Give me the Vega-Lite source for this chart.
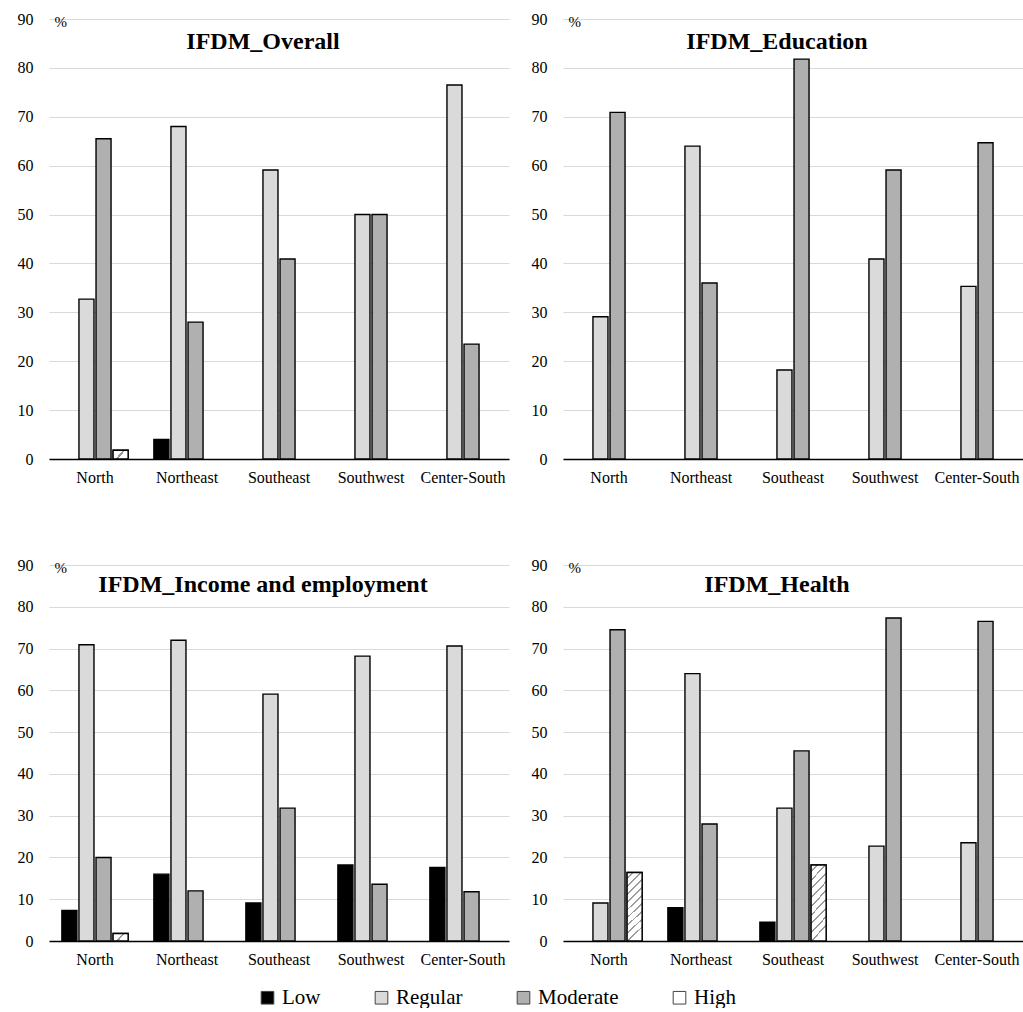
{
  "$schema": "https://vega.github.io/schema/vega-lite/v6.json",
  "background": "white",
  "padding": {"left": 17, "top": 11, "right": 0, "bottom": 0},
  "config": {
    "font": "Liberation Serif",
    "view": {"stroke": null},
    "concat": {"spacing": 22},
    "axisX": {"domainColor": "#000000", "domainWidth": 1.5, "ticks": false, "labelFontSize": 16, "labelPadding": 10, "labelAngle": 0, "title": null, "grid": false, "labelColor": "#000000", "labelFont": "Liberation Serif"},
    "axisY": {"domain": false, "ticks": false, "gridColor": "#d9d9d9", "gridWidth": 1, "labelFontSize": 16, "labelPadding": 16, "labelColor": "#000000", "labelFont": "Liberation Serif", "titleFont": "Liberation Serif"}
  },
  "data": {"values": [
    {"panel": "IFDM_Overall", "region": "North", "level": "Regular", "value": 32.7},
    {"panel": "IFDM_Overall", "region": "North", "level": "Moderate", "value": 65.5},
    {"panel": "IFDM_Overall", "region": "North", "level": "High", "value": 1.8},
    {"panel": "IFDM_Overall", "region": "Northeast", "level": "Low", "value": 4.0},
    {"panel": "IFDM_Overall", "region": "Northeast", "level": "Regular", "value": 68.0},
    {"panel": "IFDM_Overall", "region": "Northeast", "level": "Moderate", "value": 28.0},
    {"panel": "IFDM_Overall", "region": "Southeast", "level": "Regular", "value": 59.1},
    {"panel": "IFDM_Overall", "region": "Southeast", "level": "Moderate", "value": 40.9},
    {"panel": "IFDM_Overall", "region": "Southwest", "level": "Regular", "value": 50.0},
    {"panel": "IFDM_Overall", "region": "Southwest", "level": "Moderate", "value": 50.0},
    {"panel": "IFDM_Overall", "region": "Center-South", "level": "Regular", "value": 76.5},
    {"panel": "IFDM_Overall", "region": "Center-South", "level": "Moderate", "value": 23.5},
    {"panel": "IFDM_Education", "region": "North", "level": "Regular", "value": 29.1},
    {"panel": "IFDM_Education", "region": "North", "level": "Moderate", "value": 70.9},
    {"panel": "IFDM_Education", "region": "Northeast", "level": "Regular", "value": 64.0},
    {"panel": "IFDM_Education", "region": "Northeast", "level": "Moderate", "value": 36.0},
    {"panel": "IFDM_Education", "region": "Southeast", "level": "Regular", "value": 18.2},
    {"panel": "IFDM_Education", "region": "Southeast", "level": "Moderate", "value": 81.8},
    {"panel": "IFDM_Education", "region": "Southwest", "level": "Regular", "value": 40.9},
    {"panel": "IFDM_Education", "region": "Southwest", "level": "Moderate", "value": 59.1},
    {"panel": "IFDM_Education", "region": "Center-South", "level": "Regular", "value": 35.3},
    {"panel": "IFDM_Education", "region": "Center-South", "level": "Moderate", "value": 64.7},
    {"panel": "IFDM_Income and employment", "region": "North", "level": "Low", "value": 7.3},
    {"panel": "IFDM_Income and employment", "region": "North", "level": "Regular", "value": 70.9},
    {"panel": "IFDM_Income and employment", "region": "North", "level": "Moderate", "value": 20.0},
    {"panel": "IFDM_Income and employment", "region": "North", "level": "High", "value": 1.8},
    {"panel": "IFDM_Income and employment", "region": "Northeast", "level": "Low", "value": 16.0},
    {"panel": "IFDM_Income and employment", "region": "Northeast", "level": "Regular", "value": 72.0},
    {"panel": "IFDM_Income and employment", "region": "Northeast", "level": "Moderate", "value": 12.0},
    {"panel": "IFDM_Income and employment", "region": "Southeast", "level": "Low", "value": 9.1},
    {"panel": "IFDM_Income and employment", "region": "Southeast", "level": "Regular", "value": 59.1},
    {"panel": "IFDM_Income and employment", "region": "Southeast", "level": "Moderate", "value": 31.8},
    {"panel": "IFDM_Income and employment", "region": "Southwest", "level": "Low", "value": 18.2},
    {"panel": "IFDM_Income and employment", "region": "Southwest", "level": "Regular", "value": 68.2},
    {"panel": "IFDM_Income and employment", "region": "Southwest", "level": "Moderate", "value": 13.6},
    {"panel": "IFDM_Income and employment", "region": "Center-South", "level": "Low", "value": 17.6},
    {"panel": "IFDM_Income and employment", "region": "Center-South", "level": "Regular", "value": 70.6},
    {"panel": "IFDM_Income and employment", "region": "Center-South", "level": "Moderate", "value": 11.8},
    {"panel": "IFDM_Health", "region": "North", "level": "Regular", "value": 9.1},
    {"panel": "IFDM_Health", "region": "North", "level": "Moderate", "value": 74.5},
    {"panel": "IFDM_Health", "region": "North", "level": "High", "value": 16.4},
    {"panel": "IFDM_Health", "region": "Northeast", "level": "Low", "value": 8.0},
    {"panel": "IFDM_Health", "region": "Northeast", "level": "Regular", "value": 64.0},
    {"panel": "IFDM_Health", "region": "Northeast", "level": "Moderate", "value": 28.0},
    {"panel": "IFDM_Health", "region": "Southeast", "level": "Low", "value": 4.5},
    {"panel": "IFDM_Health", "region": "Southeast", "level": "Regular", "value": 31.8},
    {"panel": "IFDM_Health", "region": "Southeast", "level": "Moderate", "value": 45.5},
    {"panel": "IFDM_Health", "region": "Southeast", "level": "High", "value": 18.2},
    {"panel": "IFDM_Health", "region": "Southwest", "level": "Regular", "value": 22.7},
    {"panel": "IFDM_Health", "region": "Southwest", "level": "Moderate", "value": 77.3},
    {"panel": "IFDM_Health", "region": "Center-South", "level": "Regular", "value": 23.5},
    {"panel": "IFDM_Health", "region": "Center-South", "level": "Moderate", "value": 76.5}
  ]},
  "vconcat": [
    {"spacing": 22, "hconcat": [
      {"width": 460, "height": 440, "layer": [
        {"transform": [{"filter": "datum.panel == 'IFDM_Overall'"}],
         "mark": {"type": "bar", "stroke": "#000000", "strokeWidth": 1.4},
         "encoding": {
           "x": {"field": "region", "type": "nominal", "scale": {"domain": ["North", "Northeast", "Southeast", "Southwest", "Center-South"], "paddingInner": 0.28, "paddingOuter": 0.14}},
           "xOffset": {"field": "level", "type": "nominal", "scale": {"domain": ["Low", "Regular", "Moderate", "High"], "paddingInner": 0.12}},
           "y": {"field": "value", "type": "quantitative", "scale": {"domain": [0, 90]}, "axis": {"values": [0, 10, 20, 30, 40, 50, 60, 70, 80, 90], "title": "%", "titleAngle": 0, "titleAlign": "left", "titleBaseline": "middle", "titleX": 5, "titleY": 2, "titleFontSize": 15, "titleFontWeight": "normal", "titleColor": "#000000"}},
           "fill": {"field": "level", "type": "nominal", "scale": {"domain": ["Low", "Regular", "Moderate", "High"], "range": ["#000000", "#dadadb", "#b0b0b0", "#ffffff"]}, "title": null}
         }},
        {"transform": [{"filter": "datum.panel == 'IFDM_Overall' && datum.level == 'High'"}],
         "mark": {"type": "bar", "stroke": "#000000", "strokeWidth": 1.4, "fill": {"gradient": "linear", "x1": 0, "y1": 0, "x2": 1, "y2": 0.47, "stops": [{"offset": 0, "color": "#ffffff"}, {"offset": 0.52, "color": "#ffffff"}, {"offset": 0.52, "color": "#9a9a9a"}, {"offset": 0.66, "color": "#9a9a9a"}, {"offset": 0.66, "color": "#ffffff"}, {"offset": 1, "color": "#ffffff"}]}},
         "encoding": {
           "x": {"field": "region", "type": "nominal"},
           "xOffset": {"field": "level", "type": "nominal"},
           "y": {"field": "value", "type": "quantitative"}
         }},
        {"data": {"values": [{"title": "IFDM_Overall"}]},
         "mark": {"type": "text", "font": "Liberation Serif", "fontWeight": "bold", "fontSize": 24, "baseline": "middle", "align": "center", "dx": -16, "color": "#000000"},
         "encoding": {"x": {"datum": "Southeast"}, "y": {"datum": 85.3}, "text": {"field": "title"}}}
      ]},
      {"width": 460, "height": 440, "layer": [
        {"transform": [{"filter": "datum.panel == 'IFDM_Education'"}],
         "mark": {"type": "bar", "stroke": "#000000", "strokeWidth": 1.4},
         "encoding": {
           "x": {"field": "region", "type": "nominal", "scale": {"domain": ["North", "Northeast", "Southeast", "Southwest", "Center-South"], "paddingInner": 0.28, "paddingOuter": 0.14}},
           "xOffset": {"field": "level", "type": "nominal", "scale": {"domain": ["Low", "Regular", "Moderate", "High"], "paddingInner": 0.12}},
           "y": {"field": "value", "type": "quantitative", "scale": {"domain": [0, 90]}, "axis": {"values": [0, 10, 20, 30, 40, 50, 60, 70, 80, 90], "title": "%", "titleAngle": 0, "titleAlign": "left", "titleBaseline": "middle", "titleX": 5, "titleY": 2, "titleFontSize": 15, "titleFontWeight": "normal", "titleColor": "#000000"}},
           "fill": {"field": "level", "type": "nominal", "scale": {"domain": ["Low", "Regular", "Moderate", "High"], "range": ["#000000", "#dadadb", "#b0b0b0", "#ffffff"]}, "title": null}
         }},
        {"data": {"values": [{"title": "IFDM_Education"}]},
         "mark": {"type": "text", "font": "Liberation Serif", "fontWeight": "bold", "fontSize": 24, "baseline": "middle", "align": "center", "dx": -16, "color": "#000000"},
         "encoding": {"x": {"datum": "Southeast"}, "y": {"datum": 85.3}, "text": {"field": "title"}}}
      ]}
    ]},
    {"spacing": 22, "hconcat": [
      {"width": 460, "height": 376, "layer": [
        {"transform": [{"filter": "datum.panel == 'IFDM_Income and employment'"}],
         "mark": {"type": "bar", "stroke": "#000000", "strokeWidth": 1.4},
         "encoding": {
           "x": {"field": "region", "type": "nominal", "scale": {"domain": ["North", "Northeast", "Southeast", "Southwest", "Center-South"], "paddingInner": 0.28, "paddingOuter": 0.14}},
           "xOffset": {"field": "level", "type": "nominal", "scale": {"domain": ["Low", "Regular", "Moderate", "High"], "paddingInner": 0.12}},
           "y": {"field": "value", "type": "quantitative", "scale": {"domain": [0, 90]}, "axis": {"values": [0, 10, 20, 30, 40, 50, 60, 70, 80, 90], "title": "%", "titleAngle": 0, "titleAlign": "left", "titleBaseline": "middle", "titleX": 5, "titleY": 2, "titleFontSize": 15, "titleFontWeight": "normal", "titleColor": "#000000"}},
           "fill": {"field": "level", "type": "nominal", "scale": {"domain": ["Low", "Regular", "Moderate", "High"], "range": ["#000000", "#dadadb", "#b0b0b0", "#ffffff"]}, "title": null}
         }},
        {"transform": [{"filter": "datum.panel == 'IFDM_Income and employment' && datum.level == 'High'"}],
         "mark": {"type": "bar", "stroke": "#000000", "strokeWidth": 1.4, "fill": {"gradient": "linear", "x1": 0, "y1": 0, "x2": 1, "y2": 0.47, "stops": [{"offset": 0, "color": "#ffffff"}, {"offset": 0.52, "color": "#ffffff"}, {"offset": 0.52, "color": "#9a9a9a"}, {"offset": 0.66, "color": "#9a9a9a"}, {"offset": 0.66, "color": "#ffffff"}, {"offset": 1, "color": "#ffffff"}]}},
         "encoding": {
           "x": {"field": "region", "type": "nominal"},
           "xOffset": {"field": "level", "type": "nominal"},
           "y": {"field": "value", "type": "quantitative"}
         }},
        {"data": {"values": [{"title": "IFDM_Income and employment"}]},
         "mark": {"type": "text", "font": "Liberation Serif", "fontWeight": "bold", "fontSize": 24, "baseline": "middle", "align": "center", "dx": -16, "color": "#000000"},
         "encoding": {"x": {"datum": "Southeast"}, "y": {"datum": 85.3}, "text": {"field": "title"}}}
      ]},
      {"width": 460, "height": 376, "layer": [
        {"transform": [{"filter": "datum.panel == 'IFDM_Health'"}],
         "mark": {"type": "bar", "stroke": "#000000", "strokeWidth": 1.4},
         "encoding": {
           "x": {"field": "region", "type": "nominal", "scale": {"domain": ["North", "Northeast", "Southeast", "Southwest", "Center-South"], "paddingInner": 0.28, "paddingOuter": 0.14}},
           "xOffset": {"field": "level", "type": "nominal", "scale": {"domain": ["Low", "Regular", "Moderate", "High"], "paddingInner": 0.12}},
           "y": {"field": "value", "type": "quantitative", "scale": {"domain": [0, 90]}, "axis": {"values": [0, 10, 20, 30, 40, 50, 60, 70, 80, 90], "title": "%", "titleAngle": 0, "titleAlign": "left", "titleBaseline": "middle", "titleX": 5, "titleY": 2, "titleFontSize": 15, "titleFontWeight": "normal", "titleColor": "#000000"}},
           "fill": {"field": "level", "type": "nominal", "scale": {"domain": ["Low", "Regular", "Moderate", "High"], "range": ["#000000", "#dadadb", "#b0b0b0", "#ffffff"]}, "legend": {"orient": "none", "direction": "horizontal", "legendX": 208, "legendY": 968, "title": null, "symbolType": "square", "symbolSize": 160, "symbolStrokeColor": "#555555", "symbolStrokeWidth": 1, "labelFont": "Liberation Serif", "labelFontSize": 21, "labelOffset": 4, "columnPadding": 50, "labelColor": "#000000",
             "encode": {"symbols": {"update": {
               "opacity": {"value": 1},
               "stroke": {"value": "#444444"},
               "strokeWidth": {"value": 1},
               "fill": [{"test": "datum.value === 'High'", "value": {"gradient": "linear", "x1": 0, "y1": 0, "x2": 1, "y2": 1, "stops": [
               {"offset": 0, "color": "#ffffff"}, {"offset": 0.18, "color": "#ffffff"}, {"offset": 0.18, "color": "#707070"}, {"offset": 0.26, "color": "#707070"}, {"offset": 0.26, "color": "#ffffff"},
               {"offset": 0.44, "color": "#ffffff"}, {"offset": 0.44, "color": "#707070"}, {"offset": 0.52, "color": "#707070"}, {"offset": 0.52, "color": "#ffffff"},
               {"offset": 0.70, "color": "#ffffff"}, {"offset": 0.70, "color": "#707070"}, {"offset": 0.78, "color": "#707070"}, {"offset": 0.78, "color": "#ffffff"}, {"offset": 1, "color": "#ffffff"}]}},
               {"scale": "fill", "field": "value"}]}}}}}
         }},
        {"transform": [{"filter": "datum.panel == 'IFDM_Health' && datum.level == 'High'"}],
         "mark": {"type": "bar", "stroke": "#000000", "strokeWidth": 1.4, "fill": {"gradient": "linear", "x1": 0, "y1": 0, "x2": 0.21, "y2": 1, "stops": [
           {"offset": 0.0, "color": "#ffffff"}, {"offset": 0.07, "color": "#ffffff"}, {"offset": 0.07, "color": "#9a9a9a"}, {"offset": 0.095, "color": "#9a9a9a"}, {"offset": 0.095, "color": "#ffffff"},
           {"offset": 0.18, "color": "#ffffff"}, {"offset": 0.18, "color": "#9a9a9a"}, {"offset": 0.205, "color": "#9a9a9a"}, {"offset": 0.205, "color": "#ffffff"},
           {"offset": 0.29, "color": "#ffffff"}, {"offset": 0.29, "color": "#9a9a9a"}, {"offset": 0.315, "color": "#9a9a9a"}, {"offset": 0.315, "color": "#ffffff"},
           {"offset": 0.40, "color": "#ffffff"}, {"offset": 0.40, "color": "#9a9a9a"}, {"offset": 0.425, "color": "#9a9a9a"}, {"offset": 0.425, "color": "#ffffff"},
           {"offset": 0.51, "color": "#ffffff"}, {"offset": 0.51, "color": "#9a9a9a"}, {"offset": 0.535, "color": "#9a9a9a"}, {"offset": 0.535, "color": "#ffffff"},
           {"offset": 0.62, "color": "#ffffff"}, {"offset": 0.62, "color": "#9a9a9a"}, {"offset": 0.645, "color": "#9a9a9a"}, {"offset": 0.645, "color": "#ffffff"},
           {"offset": 0.73, "color": "#ffffff"}, {"offset": 0.73, "color": "#9a9a9a"}, {"offset": 0.755, "color": "#9a9a9a"}, {"offset": 0.755, "color": "#ffffff"},
           {"offset": 0.84, "color": "#ffffff"}, {"offset": 0.84, "color": "#9a9a9a"}, {"offset": 0.865, "color": "#9a9a9a"}, {"offset": 0.865, "color": "#ffffff"},
           {"offset": 0.95, "color": "#ffffff"}, {"offset": 0.95, "color": "#9a9a9a"}, {"offset": 0.975, "color": "#9a9a9a"}, {"offset": 0.975, "color": "#ffffff"},
           {"offset": 1.0, "color": "#ffffff"}]}},
         "encoding": {
           "x": {"field": "region", "type": "nominal"},
           "xOffset": {"field": "level", "type": "nominal"},
           "y": {"field": "value", "type": "quantitative"}
         }},
        {"data": {"values": [{"title": "IFDM_Health"}]},
         "mark": {"type": "text", "font": "Liberation Serif", "fontWeight": "bold", "fontSize": 24, "baseline": "middle", "align": "center", "dx": -16, "color": "#000000"},
         "encoding": {"x": {"datum": "Southeast"}, "y": {"datum": 85.3}, "text": {"field": "title"}}}
      ]}
    ]}
  ],
  "spacing": 72,
  "resolve": {"scale": {"fill": "shared"}}
}
